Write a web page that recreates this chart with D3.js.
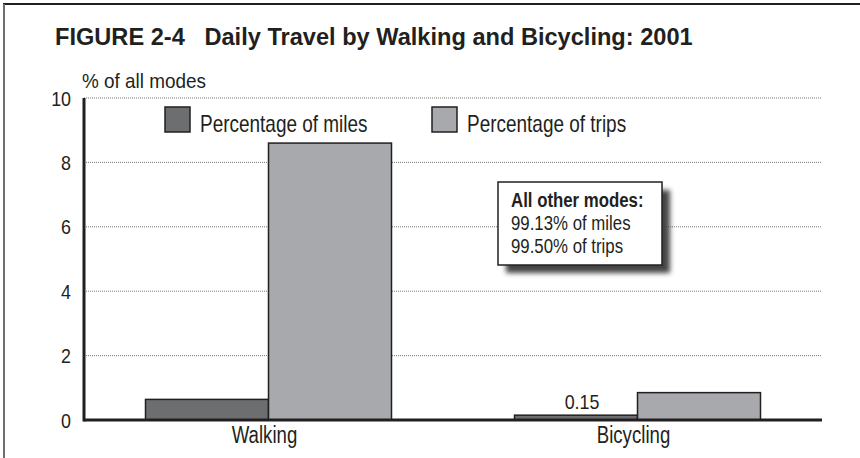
<!DOCTYPE html>
<html>
<head>
<meta charset="utf-8">
<script src="https://cdn.jsdelivr.net/npm/d3@7"></script>
<style>
  body { margin: 0; background: #fff; }
  svg { display: block; }
  .narrow { font-family: "Liberation Sans", Arial, sans-serif; fill: #231f20; }
</style>
</head>
<body>
<div id="chart"></div>
<script>
const categories = ["Walking", "Bicycling"];
const seriesNames = ["Percentage of miles", "Percentage of trips"];
const milesValues = [0.64, 0.15];
const tripsValues = [8.6, 0.85];
const yTicks = [0, 2, 4, 6, 8, 10];
const noteLines = ["All other modes:", "99.13% of miles", "99.50% of trips"];

const width = 860;
const height = 458;
const margin = { top: 98, right: 38, bottom: 38, left: 84 };
const colors = ["#6d6e70", "#a7a9ac"];

// squeeze Arial-like text into a condensed look
function condense(sel, k) {
    sel.each(function() {
        const w = this.getComputedTextLength();
        d3.select(this)
            .attr("textLength", w * k)
            .attr("lengthAdjust", "spacingAndGlyphs");
    });
}

const svg = d3.select("#chart")
    .append("svg")
    .attr("width", width)
    .attr("height", height);

const defs = svg.append("defs");
const blur = defs.append("filter").attr("id", "shadow")
    .attr("x", "-20%").attr("y", "-20%").attr("width", "150%").attr("height", "150%");
blur.append("feGaussianBlur").attr("stdDeviation", 2.5);

// frame
svg.append("line").attr("x1", 3).attr("x2", width).attr("y1", 4).attr("y2", 4)
    .attr("stroke", "#231f20").attr("stroke-width", 2);
svg.append("line").attr("x1", 4).attr("x2", 4).attr("y1", 4).attr("y2", height)
    .attr("stroke", "#6d6e70").attr("stroke-width", 2);

svg.append("text")
    .attr("x", 55)
    .attr("y", 45)
    .attr("font-family", "Liberation Sans, Arial, sans-serif")
    .attr("font-weight", "bold")
    .attr("font-size", 23.6)
    .attr("fill", "#231f20")
    .attr("xml:space", "preserve")
    .text("FIGURE 2-4   Daily Travel by Walking and Bicycling: 2001");

const x0 = d3.scaleBand()
    .domain(categories)
    .range([margin.left, width - margin.right])
    .padding(0);

const x1 = d3.scaleBand()
    .domain(seriesNames)
    .range([x0.bandwidth() / 6, x0.bandwidth() * 5 / 6])
    .padding(0);

const y = d3.scaleLinear()
    .domain([0, 10])
    .range([height - margin.bottom, margin.top]);

// gridlines
svg.append("g")
    .selectAll("line")
    .data(yTicks.filter(d => d > 0))
    .join("line")
    .attr("x1", margin.left)
    .attr("x2", width - margin.right)
    .attr("y1", d => y(d))
    .attr("y2", d => y(d))
    .attr("stroke", "#777")
    .attr("stroke-width", 1)
    .attr("stroke-dasharray", "1,1");

// y tick labels
svg.append("g")
    .selectAll("text")
    .data(yTicks)
    .join("text")
    .attr("class", "narrow")
    .attr("x", 71)
    .attr("y", d => y(d))
    .attr("dy", "0.36em")
    .attr("text-anchor", "end")
    .attr("font-size", 21)
    .text(d => d)
    .call(condense, 0.85);

svg.append("text")
    .attr("class", "narrow")
    .attr("x", 82)
    .attr("y", 88)
    .attr("font-size", 21)
    .text("% of all modes")
    .call(condense, 0.9);

// bars
const data = categories.map((c, i) => ({
    category: c,
    values: [milesValues[i], tripsValues[i]]
}));

const groups = svg.append("g")
    .selectAll("g")
    .data(data)
    .join("g")
    .attr("transform", d => `translate(${x0(d.category)},0)`);

groups.selectAll("rect")
    .data(d => d.values.map((v, j) => ({ key: seriesNames[j], value: v, idx: j })))
    .join("rect")
    .attr("x", d => x1(d.key))
    .attr("y", d => y(d.value))
    .attr("width", x1.bandwidth())
    .attr("height", d => y(0) - y(d.value))
    .attr("fill", d => colors[d.idx])
    .attr("stroke", "#231f20")
    .attr("stroke-width", 1.5);

// value label for the small bicycling bar
svg.append("text")
    .attr("class", "narrow")
    .attr("x", x0("Bicycling") + x1(seriesNames[0]) + x1.bandwidth() / 2 + 6)
    .attr("y", y(milesValues[1]) - 6)
    .attr("text-anchor", "middle")
    .attr("font-size", 21)
    .text(milesValues[1].toFixed(2))
    .call(condense, 0.85);

// axis lines
svg.append("line")
    .attr("x1", margin.left).attr("x2", width - margin.right)
    .attr("y1", y(0)).attr("y2", y(0))
    .attr("stroke", "#231f20").attr("stroke-width", 3);
svg.append("line")
    .attr("x1", margin.left).attr("x2", margin.left)
    .attr("y1", y(10)).attr("y2", y(0) + 1.5)
    .attr("stroke", "#231f20").attr("stroke-width", 3);

// category labels
svg.append("g")
    .selectAll("text")
    .data(categories)
    .join("text")
    .attr("class", "narrow")
    .attr("x", d => x0(d) + x0.bandwidth() / 2 - 4)
    .attr("y", 443)
    .attr("text-anchor", "middle")
    .attr("font-size", 23)
    .text(d => d)
    .call(condense, 0.81);

// legend
const legendX = [165, 432];
const legend = svg.append("g")
    .selectAll("g")
    .data(seriesNames)
    .join("g")
    .attr("transform", (d, i) => `translate(${legendX[i]},107)`);

legend.append("rect")
    .attr("width", 25)
    .attr("height", 25)
    .attr("fill", (d, i) => colors[i])
    .attr("stroke", "#231f20")
    .attr("stroke-width", 1.5);

legend.append("text")
    .attr("class", "narrow")
    .attr("x", 35)
    .attr("y", 24.5)
    .attr("font-size", 24)
    .text(d => d)
    .call(condense, 0.79);

// note box
const note = svg.append("g").attr("transform", "translate(498,182)");
note.append("rect")
    .attr("x", 8).attr("y", 8)
    .attr("width", 164).attr("height", 83)
    .attr("fill", "#444")
    .attr("filter", "url(#shadow)");
note.append("rect")
    .attr("width", 164).attr("height", 83)
    .attr("fill", "#fff")
    .attr("stroke", "#231f20")
    .attr("stroke-width", 1.5);
note.selectAll("text")
    .data(noteLines)
    .join("text")
    .attr("class", "narrow")
    .attr("x", 13)
    .attr("y", (d, i) => 25 + i * 23)
    .attr("font-size", 20)
    .attr("font-weight", (d, i) => i === 0 ? "bold" : "normal")
    .text(d => d)
    .call(condense, 0.84);
</script>
</body>
</html>
